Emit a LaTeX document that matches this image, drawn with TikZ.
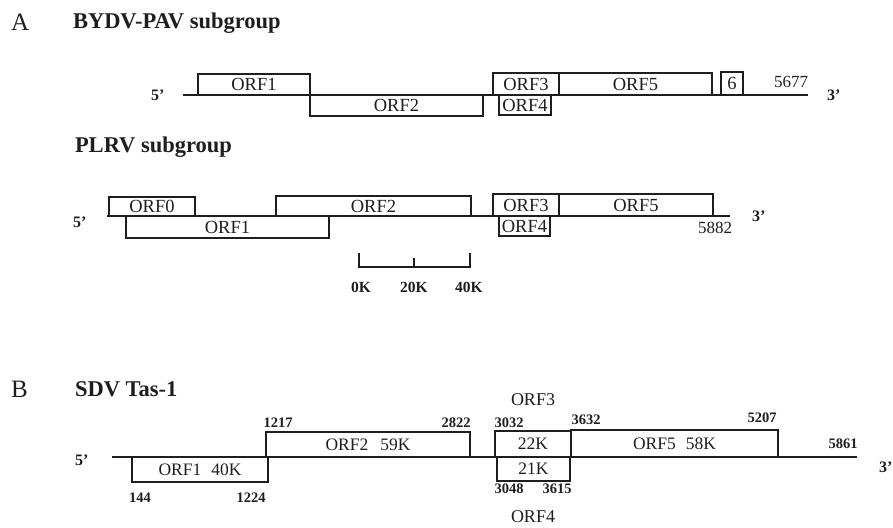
\documentclass[tikz,border=0pt]{standalone}
\usepackage{fontspec}
\setmainfont{Liberation Serif}
\definecolor{ink}{HTML}{1E1E1E}
\begin{document}
\begin{tikzpicture}[x=1pt,y=-1pt,
  every node/.style={text=ink, inner sep=0pt, outer sep=0pt},
  gline/.style={draw=ink, line width=1.3pt},
  orf/.style={draw=ink, line width=1.3pt, rectangle, inner sep=0pt, align=center,
              font=\fontsize{18.5}{18.5}\selectfont},
  orfb/.style={orf, font=\fontsize{17.5}{17.5}\selectfont},
  panel/.style={font=\fontsize{25}{25}\selectfont, anchor=base west},
  ttl/.style={font=\fontsize{22.5}{22.5}\selectfont\bfseries, anchor=base west},
  endl/.style={font=\fontsize{16}{16}\selectfont\bfseries},
  numA/.style={font=\fontsize{17}{17}\selectfont},
  numK/.style={font=\fontsize{15.5}{15.5}\selectfont\bfseries, anchor=base},
  numB/.style={font=\fontsize{14.5}{14.5}\selectfont\bfseries, anchor=base},
  orflab/.style={font=\fontsize{18}{18}\selectfont, anchor=base}]
\useasboundingbox (0,0) rectangle (893,527);

% ---------------- Panel A : BYDV-PAV ----------------
\node[panel] (pA) at (11,31) {A};
\node[ttl] (tA) at (73,29) {BYDV-PAV subgroup};

\coordinate (a5) at (183,95);
\coordinate (a3) at (808,95);
\draw[gline] (a5) -- (a3);
\node[endl, anchor=base west] (a5l) at (151,100) {5'};
\node[endl, anchor=base west] (a3l) at (827,100) {3'};
\node[numA, anchor=base east] (aN) at (808,87) {5677};

\node[orf, anchor=south west, minimum width=112, minimum height=21] (aO1) at (198,95) {ORF1};
\node[orf, anchor=north west, minimum width=173, minimum height=21] (aO2) at (310,95) {ORF2};
\node[orf, anchor=south west, minimum width=66, minimum height=22] (aO3) at (493,95) {ORF3};
\node[orf, anchor=south west, minimum width=153, minimum height=22] (aO5) at (559,95) {ORF5};
\node[orf, anchor=south west, minimum width=22, minimum height=23] (aO6) at (721,95) {6};
\node[orf, anchor=north west, minimum width=52, minimum height=20] (aO4) at (499,95) {ORF4};

% ---------------- PLRV ----------------
\node[ttl] (tP) at (75,152) {PLRV subgroup};

\coordinate (p5) at (107,216);
\coordinate (p3) at (730,216);
\draw[gline] (p5) -- (p3);
\node[endl, anchor=base west] (p5l) at (73,227) {5'};
\node[endl, anchor=base west] (p3l) at (752,221) {3'};
\node[numA, anchor=base east] (pN) at (732,233) {5882};

\node[orf, anchor=south west, minimum width=86, minimum height=19] (pO0) at (109,216) {ORF0};
\node[orf, anchor=north west, minimum width=203, minimum height=22] (pO1) at (126,216) {ORF1};
\node[orf, anchor=south west, minimum width=195, minimum height=20] (pO2) at (276,216) {ORF2};
\node[orf, anchor=south west, minimum width=66, minimum height=22] (pO3) at (493,216) {ORF3};
\node[orf, anchor=south west, minimum width=154, minimum height=22] (pO5) at (559,216) {ORF5};
\node[orf, anchor=north west, minimum width=51, minimum height=20] (pO4) at (499,216) {ORF4};

% scale bar
\coordinate (s0t) at (359,253);
\coordinate (s0b) at (359,267);
\coordinate (s1t) at (414,258);
\coordinate (s1b) at (414,267);
\coordinate (s2t) at (470,253);
\coordinate (s2b) at (470,267);
\draw[draw=ink, line width=1.1pt] (s0t) -- (s0b) -- (s2b) -- (s2t);
\draw[draw=ink, line width=1.1pt] (s1t) -- (s1b);
\node[numK] (k0) at (361,292) {0K};
\node[numK] (k20) at (414,292) {20K};
\node[numK] (k40) at (469,292) {40K};

% ---------------- Panel B : SDV Tas-1 ----------------
\node[panel] (pB) at (11,397) {B};
\node[ttl] (tB) at (75,396) {SDV Tas-1};
\node[orflab] (o3l) at (533,405) {ORF3};
\node[orflab] (o4l) at (533,522) {ORF4};

\coordinate (b5) at (112,457);
\coordinate (b3) at (857,457);
\draw[gline] (b5) -- (b3);
\node[endl, anchor=base west] (b5l) at (75,465) {5'};
\node[endl, anchor=base west] (b3l) at (879,472) {3'};

\node[orfb, anchor=north west, minimum width=136, minimum height=25] (bO1) at (132,457) {ORF1\hspace{10pt}40K};
\node[orfb, anchor=south west, minimum width=204, minimum height=25] (bO2) at (266,457) {ORF2\hspace{12pt}59K};
\node[orfb, anchor=south west, minimum width=76, minimum height=26] (bO3) at (495,457) {22K};
\node[orfb, anchor=south west, minimum width=207, minimum height=27] (bO5) at (571,457) {ORF5\hspace{10pt}58K};
\node[orfb, anchor=north west, minimum width=73, minimum height=24] (bO4) at (497,457) {21K};

\node[numB] (n1217) at (278,427) {1217};
\node[numB] (n2822) at (456,427) {2822};
\node[numB] (n3032) at (509,427) {3032};
\node[numB] (n3632) at (586,424) {3632};
\node[numB] (n5207) at (762,422) {5207};
\node[numB] (n5861) at (843,448) {5861};
\node[numB] (n144) at (140,502) {144};
\node[numB] (n1224) at (251,502) {1224};
\node[numB] (n3048) at (509,493) {3048};
\node[numB] (n3615) at (557,493) {3615};
\end{tikzpicture}
\end{document}
